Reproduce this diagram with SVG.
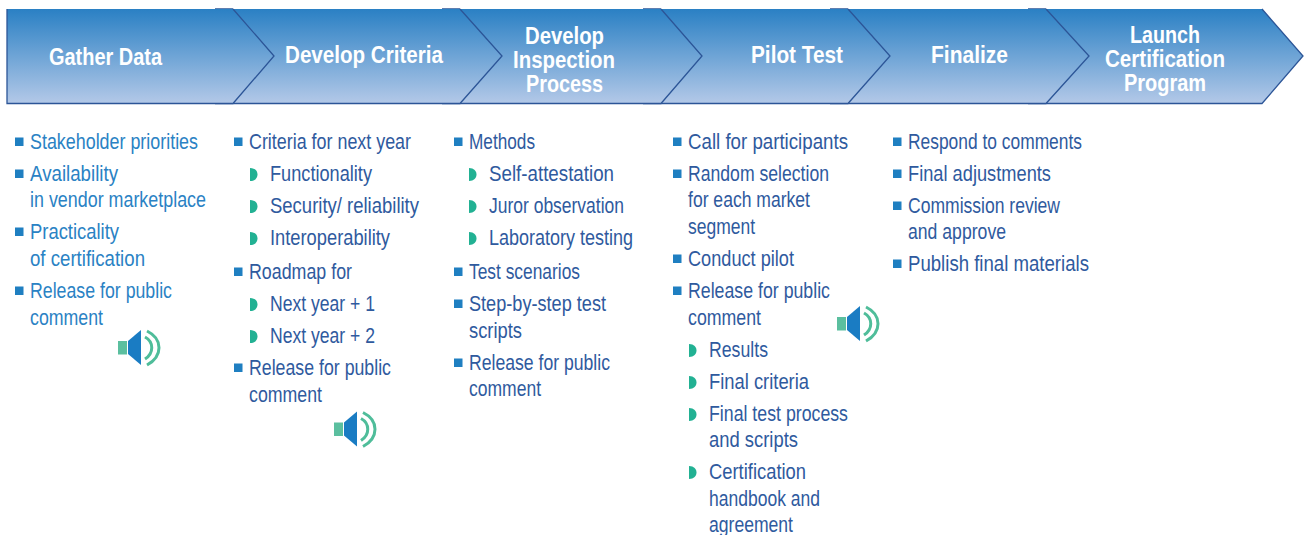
<svg xmlns="http://www.w3.org/2000/svg" width="1308" height="535" viewBox="0 0 1308 535">
<style>
text{font-family:"Liberation Sans Narrow","Liberation Sans",Arial,sans-serif}
.h{font-size:23px;font-weight:700;fill:#fff}
.t{font-size:22.500px;fill:#2f5a9e}
.l{font-size:22.500px;fill:#2a82c4}
.f{fill:url(#g)}
.e{fill:none;stroke:#2c5597;stroke-width:1.3}
</style>
<defs>
<linearGradient id="g" gradientUnits="userSpaceOnUse" x1="0" y1="9" x2="0" y2="104"><stop offset="0" stop-color="#2a80c4"/><stop offset="1" stop-color="#b4c9e8"/></linearGradient>
<rect id="sq" width="8.500" height="8.500" fill="#1f7fc1"/>
<path id="dd" d="M0 0C5 0 7.500 3 7.500 6.500S5 13 0 13Z" fill="#22b193"/>
<g id="sp">
<rect x="0" y="11" width="9" height="13.500" fill="#5bbf9f"/>
<path d="M10 11L23 0V35L10 24Z" fill="#1a7cc3"/>
<path d="M29 1C45 9 45 26 29 35M27 7C36 12 36 23 27 29" fill="none" stroke="#4fbd9a" stroke-width="3"/>
</g>
</defs>

<g id="node-launch"><path class="f" d="M1028 9H1262L1303 56L1262 103.500H1028Z"/><path class="e" d="M1028 9H1046M1028 103.500H1262L1303 56L1262 9"/>
<text class="h" x="1130" y="43" textLength="70" lengthAdjust="spacingAndGlyphs">Launch</text>
<text class="h" x="1105" y="67" textLength="120" lengthAdjust="spacingAndGlyphs">Certification</text>
<text class="h" x="1124" y="91" textLength="82" lengthAdjust="spacingAndGlyphs">Program</text></g>

<g id="node-finalize"><path class="f" d="M830 9H1046L1089 56L1046 103.500H830Z"/><path class="e" d="M830 9H848M830 103.500H1046L1089 56L1046 9"/>
<text class="h" x="931" y="63" textLength="77" lengthAdjust="spacingAndGlyphs">Finalize</text></g>

<g id="node-pilot"><path class="f" d="M643 9H848L890 56L848 103.500H643Z"/><path class="e" d="M643 9H661M643 103.500H848L890 56L848 9"/>
<text class="h" x="751" y="63" textLength="92" lengthAdjust="spacingAndGlyphs">Pilot Test</text></g>

<g id="node-inspection"><path class="f" d="M442 9H661L702 56L661 103.500H442Z"/><path class="e" d="M442 9H460M442 103.500H661L702 56L661 9"/>
<text class="h" x="525" y="44" textLength="79" lengthAdjust="spacingAndGlyphs">Develop</text>
<text class="h" x="513" y="68" textLength="102" lengthAdjust="spacingAndGlyphs">Inspection</text>
<text class="h" x="526" y="92" textLength="77" lengthAdjust="spacingAndGlyphs">Process</text></g>

<g id="node-criteria"><path class="f" d="M215 9H460L502 56L460 103.500H215Z"/><path class="e" d="M215 9H233M215 103.500H460L502 56L460 9"/>
<text class="h" x="285" y="63" textLength="158" lengthAdjust="spacingAndGlyphs">Develop Criteria</text></g>

<g id="node-gather"><path class="f" d="M7 9H233L274 56L233 103.500H7Z"/><path class="e" d="M7 9V103.500H233L274 56L233 9"/>
<text class="h" x="49" y="65" textLength="113" lengthAdjust="spacingAndGlyphs">Gather Data</text></g>

<g id="list-gather">
<use href="#sq" x="15" y="137.500"/><text class="l" x="30" y="149" textLength="168" lengthAdjust="spacingAndGlyphs">Stakeholder priorities</text>
<use href="#sq" x="15" y="169.500"/><text class="l" x="30" y="181" textLength="88" lengthAdjust="spacingAndGlyphs">Availability</text>
<text class="l" x="30" y="207" textLength="176" lengthAdjust="spacingAndGlyphs">in vendor marketplace</text>
<use href="#sq" x="15" y="227.500"/><text class="l" x="30" y="239" textLength="89" lengthAdjust="spacingAndGlyphs">Practicality</text>
<text class="l" x="30" y="266" textLength="115" lengthAdjust="spacingAndGlyphs">of certification</text>
<use href="#sq" x="15" y="286.500"/><text class="l" x="30" y="298" textLength="142" lengthAdjust="spacingAndGlyphs">Release for public</text>
<text class="l" x="30" y="325" textLength="73" lengthAdjust="spacingAndGlyphs">comment</text>
</g>
<use id="speaker-1" href="#sp" x="118" y="330"/>

<g id="list-criteria">
<use href="#sq" x="234" y="137.500"/><text class="t" x="249" y="149" textLength="162" lengthAdjust="spacingAndGlyphs">Criteria for next year</text>
<use href="#dd" x="250" y="168"/><text class="t" x="270" y="181" textLength="102" lengthAdjust="spacingAndGlyphs">Functionality</text>
<use href="#dd" x="250" y="200"/><text class="t" x="270" y="213" textLength="149" lengthAdjust="spacingAndGlyphs">Security/ reliability</text>
<use href="#dd" x="250" y="232"/><text class="t" x="270" y="245" textLength="120" lengthAdjust="spacingAndGlyphs">Interoperability</text>
<use href="#sq" x="234" y="267.500"/><text class="t" x="249" y="279" textLength="103" lengthAdjust="spacingAndGlyphs">Roadmap for</text>
<use href="#dd" x="250" y="298"/><text class="t" x="270" y="311" textLength="105" lengthAdjust="spacingAndGlyphs">Next year + 1</text>
<use href="#dd" x="250" y="330"/><text class="t" x="270" y="343" textLength="105" lengthAdjust="spacingAndGlyphs">Next year + 2</text>
<use href="#sq" x="234" y="363.500"/><text class="t" x="249" y="375" textLength="142" lengthAdjust="spacingAndGlyphs">Release for public</text>
<text class="t" x="249" y="402" textLength="73" lengthAdjust="spacingAndGlyphs">comment</text>
</g>
<use id="speaker-2" href="#sp" x="334" y="411.500"/>

<g id="list-inspection">
<use href="#sq" x="454" y="137.500"/><text class="t" x="469" y="149" textLength="66" lengthAdjust="spacingAndGlyphs">Methods</text>
<use href="#dd" x="469" y="168"/><text class="t" x="489" y="181" textLength="125" lengthAdjust="spacingAndGlyphs">Self-attestation</text>
<use href="#dd" x="469" y="200"/><text class="t" x="489" y="213" textLength="135" lengthAdjust="spacingAndGlyphs">Juror observation</text>
<use href="#dd" x="469" y="232"/><text class="t" x="489" y="245" textLength="144" lengthAdjust="spacingAndGlyphs">Laboratory testing</text>
<use href="#sq" x="454" y="267.500"/><text class="t" x="469" y="279" textLength="111" lengthAdjust="spacingAndGlyphs">Test scenarios</text>
<use href="#sq" x="454" y="299.500"/><text class="t" x="469" y="311" textLength="137" lengthAdjust="spacingAndGlyphs">Step-by-step test</text>
<text class="t" x="469" y="338" textLength="53" lengthAdjust="spacingAndGlyphs">scripts</text>
<use href="#sq" x="454" y="358.500"/><text class="t" x="469" y="370" textLength="141" lengthAdjust="spacingAndGlyphs">Release for public</text>
<text class="t" x="469" y="396" textLength="72" lengthAdjust="spacingAndGlyphs">comment</text>
</g>

<g id="list-pilot">
<use href="#sq" x="673" y="137.500"/><text class="t" x="688" y="149" textLength="160" lengthAdjust="spacingAndGlyphs">Call for participants</text>
<use href="#sq" x="673" y="169.500"/><text class="t" x="688" y="181" textLength="141" lengthAdjust="spacingAndGlyphs">Random selection</text>
<text class="t" x="688" y="207" textLength="122" lengthAdjust="spacingAndGlyphs">for each market</text>
<text class="t" x="688" y="234" textLength="67" lengthAdjust="spacingAndGlyphs">segment</text>
<use href="#sq" x="673" y="254.500"/><text class="t" x="688" y="266" textLength="106" lengthAdjust="spacingAndGlyphs">Conduct pilot</text>
<use href="#sq" x="673" y="286.500"/><text class="t" x="688" y="298" textLength="142" lengthAdjust="spacingAndGlyphs">Release for public</text>
<text class="t" x="688" y="325" textLength="73" lengthAdjust="spacingAndGlyphs">comment</text>
<use href="#dd" x="689" y="344"/><text class="t" x="709" y="357" textLength="59" lengthAdjust="spacingAndGlyphs">Results</text>
<use href="#dd" x="689" y="376"/><text class="t" x="709" y="389" textLength="100" lengthAdjust="spacingAndGlyphs">Final criteria</text>
<use href="#dd" x="689" y="408"/><text class="t" x="709" y="421" textLength="139" lengthAdjust="spacingAndGlyphs">Final test process</text>
<text class="t" x="709" y="447" textLength="89" lengthAdjust="spacingAndGlyphs">and scripts</text>
<use href="#dd" x="689" y="466"/><text class="t" x="709" y="479" textLength="97" lengthAdjust="spacingAndGlyphs">Certification</text>
<text class="t" x="709" y="506" textLength="111" lengthAdjust="spacingAndGlyphs">handbook and</text>
<text class="t" x="709" y="532" textLength="84" lengthAdjust="spacingAndGlyphs">agreement</text>
</g>
<use id="speaker-3" href="#sp" x="837" y="306"/>

<g id="list-finalize">
<use href="#sq" x="893" y="137.500"/><text class="t" x="908" y="149" textLength="174" lengthAdjust="spacingAndGlyphs">Respond to comments</text>
<use href="#sq" x="893" y="169.500"/><text class="t" x="908" y="181" textLength="143" lengthAdjust="spacingAndGlyphs">Final adjustments</text>
<use href="#sq" x="893" y="201.500"/><text class="t" x="908" y="213" textLength="152" lengthAdjust="spacingAndGlyphs">Commission review</text>
<text class="t" x="908" y="239" textLength="98" lengthAdjust="spacingAndGlyphs">and approve</text>
<use href="#sq" x="893" y="259.500"/><text class="t" x="908" y="271" textLength="181" lengthAdjust="spacingAndGlyphs">Publish final materials</text>
</g>
</svg>
